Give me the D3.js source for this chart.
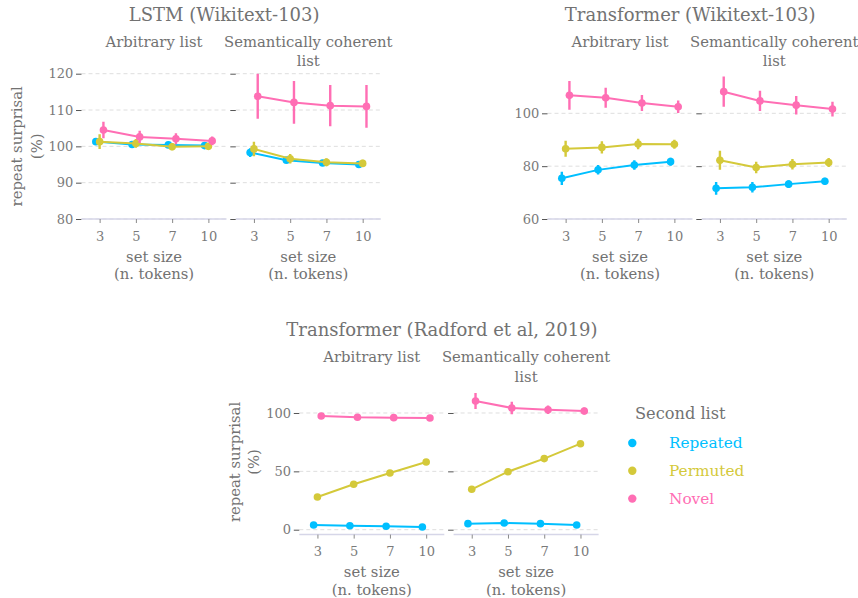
<!DOCTYPE html>
<html>
<head>
<meta charset="utf-8">
<script src="https://cdn.jsdelivr.net/npm/d3@7"></script>
<style>
  body { margin: 0; background: #fff; }
  text { font-family: "DejaVu Serif", "Liberation Serif", serif; }
</style>
</head>
<body>
<svg id="chart" width="858" height="598"></svg>
<script>
// ---- data ---------------------------------------------------------------
const setSizes = ["3", "5", "7", "10"];
const seriesNames = ["Repeated", "Permuted", "Novel"];
const seriesColors = ["#00bfff", "#d4c93a", "#ff6eb4"];
const facetLabels = [["Arbitrary list"], ["Semantically coherent", "list"]];

// LSTM (Wikitext-103): rows = Repeated, Permuted, Novel; cols = set sizes
const lstmArbitraryMean = [[101.3, 100.5, 100.4, 100.2], [101.3, 100.8, 99.9, 100.0], [104.5, 102.6, 102.1, 101.5]];
const lstmArbitraryErr  = [[0.7, 0.6, 0.6, 0.6], [2.0, 1.2, 1.0, 0.8], [2.3, 1.7, 1.5, 1.2]];
const lstmCoherentMean  = [[98.3, 96.2, 95.4, 95.0], [99.3, 96.6, 95.6, 95.3], [113.8, 112.1, 111.2, 111.0]];
const lstmCoherentErr   = [[1.2, 0.8, 0.7, 0.6], [2.0, 1.3, 1.1, 1.0], [6.2, 5.9, 5.7, 5.9]];
const lstmTicks = [80, 90, 100, 110, 120];

// Transformer (Wikitext-103)
const twArbitraryMean = [[75.4, 78.6, 80.4, 81.7], [86.6, 87.1, 88.4, 88.3], [106.8, 105.9, 103.9, 102.5]];
const twArbitraryErr  = [[2.5, 1.8, 1.8, 1.5], [3.0, 2.3, 2.0, 1.7], [5.4, 3.8, 3.0, 2.4]];
const twCoherentMean  = [[71.6, 72.0, 73.2, 74.3], [82.2, 79.5, 80.7, 81.4], [108.2, 104.7, 103.1, 101.6]];
const twCoherentErr   = [[2.4, 2.0, 1.5, 1.3], [3.6, 2.2, 2.0, 1.7], [5.7, 3.8, 3.5, 2.8]];
const twTicks = [60, 80, 100];

// Transformer (Radford et al, 2019)
const gptArbitraryMean = [[4.0, 3.4, 2.9, 2.3], [28.0, 38.9, 48.6, 58.0], [97.4, 96.3, 96.0, 95.7]];
const gptArbitraryErr  = [[0.5, 0.5, 0.5, 0.5], [0.6, 0.6, 0.6, 0.6], [0.8, 0.7, 0.7, 0.7]];
const gptCoherentMean  = [[5.2, 5.7, 5.2, 4.0], [34.6, 49.7, 60.9, 73.7], [110.3, 104.3, 102.8, 101.7]];
const gptCoherentErr   = [[0.6, 0.6, 0.6, 0.6], [0.8, 0.8, 0.8, 0.8], [6.8, 5.3, 3.7, 3.0]];
const gptTicks = [0, 50, 100];

// ---- layout -------------------------------------------------------------
const svg = d3.select("#chart");
const facetW = 145, facetH = 145.3, facetGap = 9.3, dodge = 3.8;
const textGray = "#727272";

const panels = [
  { title: "LSTM (Wikitext-103)", left: 81.5, top: 73.7, domain: [80, 120], ticks: lstmTicks, yTitle: true,
    facets: [[lstmArbitraryMean, lstmArbitraryErr], [lstmCoherentMean, lstmCoherentErr]] },
  { title: "Transformer (Wikitext-103)", left: 547.5, top: 73.7, domain: [60, 115], ticks: twTicks, yTitle: false,
    facets: [[twArbitraryMean, twArbitraryErr], [twCoherentMean, twCoherentErr]] },
  { title: "Transformer (Radford et al, 2019)", left: 299.3, top: 389.3, domain: [-4.2, 120.3], ticks: gptTicks, yTitle: true,
    facets: [[gptArbitraryMean, gptArbitraryErr], [gptCoherentMean, gptCoherentErr]] }
];

panels.forEach((p, pi) => {
  const bottom = p.top + facetH;
  const y = d3.scaleLinear().domain(p.domain).range([bottom, p.top]);
  const g = svg.append("g");

  // plot title
  g.append("text")
    .attr("x", p.left + (2 * facetW + facetGap) / 2 - 7)
    .attr("y", p.top - 53)
    .attr("text-anchor", "middle")
    .attr("font-size", 18)
    .attr("fill", textGray)
    .text(p.title);

  // y-axis title
  if (p.yTitle) {
    const cy = p.top + facetH / 2;
    [["repeat surprisal", -65], ["(%)", -45.5]].forEach(([t, dx]) => {
      g.append("text")
        .attr("transform", `translate(${p.left + dx},${cy}) rotate(-90)`)
        .attr("text-anchor", "middle")
        .attr("dominant-baseline", "central")
        .attr("font-size", 14.8)
        .attr("fill", textGray)
        .text(t);
    });
  }

  p.facets.forEach(([means, errs], fi) => {
    const x0 = p.left + fi * (facetW + facetGap);
    const x = d3.scalePoint().domain(setSizes).range([x0, x0 + facetW]).padding(0.5);
    const fg = g.append("g");

    // facet strip label
    facetLabels[fi].forEach((line, li) => {
      fg.append("text")
        .attr("x", x0 + facetW / 2)
        .attr("y", p.top - 27 + li * 19.3)
        .attr("text-anchor", "middle")
        .attr("font-size", 14.8)
        .attr("fill", textGray)
        .text(line);
    });

    // dashed grid lines
    fg.append("g").selectAll("line").data(p.ticks).join("line")
      .attr("x1", x0).attr("x2", x0 + facetW)
      .attr("y1", d => y(d)).attr("y2", d => y(d))
      .attr("stroke", "#dedede").attr("stroke-width", 1)
      .attr("stroke-dasharray", "4,3");

    // y axis (labels only on the first facet)
    const yAxis = fg.append("g")
      .attr("transform", `translate(${x0},0)`)
      .call(d3.axisLeft(y).tickValues(p.ticks).tickSize(5.5).tickPadding(2.7)
        .tickFormat(fi === 0 ? d3.format("d") : () => ""));
    yAxis.select(".domain").remove();
    yAxis.selectAll(".tick line").attr("stroke", "#555");
    yAxis.selectAll(".tick text")
      .attr("fill", "#7a7a7a").attr("font-size", 13)
      .style("font-family", '"DejaVu Serif", serif');

    // bottom axis line
    fg.append("line")
      .attr("x1", x0).attr("x2", x0 + facetW)
      .attr("y1", bottom).attr("y2", bottom)
      .attr("stroke", "#d6d6e8").attr("stroke-width", 1.5);

    const xAxis = fg.append("g")
      .attr("transform", `translate(0,${bottom})`)
      .call(d3.axisBottom(x).tickSize(4));
    xAxis.select(".domain").remove();
    xAxis.selectAll(".tick line").attr("stroke", "#8a8a8a");
    xAxis.selectAll(".tick text")
      .attr("y", 21.5).attr("dy", null)
      .attr("fill", "#7a7a7a").attr("font-size", 13)
      .style("font-family", '"DejaVu Serif", serif');

    // x-axis title
    [["set size", 42.5], ["(n. tokens)", 60]].forEach(([t, dy]) => {
      fg.append("text")
        .attr("x", x0 + facetW / 2)
        .attr("y", bottom + dy)
        .attr("text-anchor", "middle")
        .attr("font-size", 14.8)
        .attr("fill", textGray)
        .text(t);
    });

    // clip region of the facet
    const clipId = `clip-${pi}-${fi}`;
    fg.append("clipPath").attr("id", clipId)
      .append("rect").attr("x", x0).attr("y", p.top - 0.5).attr("width", facetW).attr("height", facetH + 1);
    const marks = fg.append("g").attr("clip-path", `url(#${clipId})`);

    seriesNames.forEach((name, si) => {
      const off = (si - 1) * dodge;
      const pts = setSizes.map((s, k) => ({ s, v: means[si][k], e: errs[si][k] }));
      const col = seriesColors[si];
      const sg = marks.append("g");

      sg.append("path")
        .datum(pts)
        .attr("fill", "none")
        .attr("stroke", col)
        .attr("stroke-width", 2)
        .attr("d", d3.line().x(d => x(d.s) + off).y(d => y(d.v)));

      sg.selectAll("line.err").data(pts).join("line")
        .attr("class", "err")
        .attr("x1", d => x(d.s) + off).attr("x2", d => x(d.s) + off)
        .attr("y1", d => y(d.v - d.e)).attr("y2", d => y(d.v + d.e))
        .attr("stroke", col).attr("stroke-width", 2.4);

      sg.selectAll("circle").data(pts).join("circle")
        .attr("cx", d => x(d.s) + off)
        .attr("cy", d => y(d.v))
        .attr("r", 3.8)
        .attr("fill", col);
    });
  });
});

// ---- legend -------------------------------------------------------------
const legend = svg.append("g");
legend.append("text")
  .attr("x", 635).attr("y", 419.3)
  .attr("font-size", 16.2)
  .attr("fill", textGray)
  .text("Second list");

seriesNames.forEach((name, i) => {
  const cy = 443 + i * 27.8;
  legend.append("circle")
    .attr("cx", 632.3).attr("cy", cy).attr("r", 4.2)
    .attr("fill", seriesColors[i]);
  legend.append("text")
    .attr("x", 669).attr("y", cy + 5.3)
    .attr("font-size", 15.3)
    .attr("fill", seriesColors[i])
    .text(name);
});
</script>
</body>
</html>
